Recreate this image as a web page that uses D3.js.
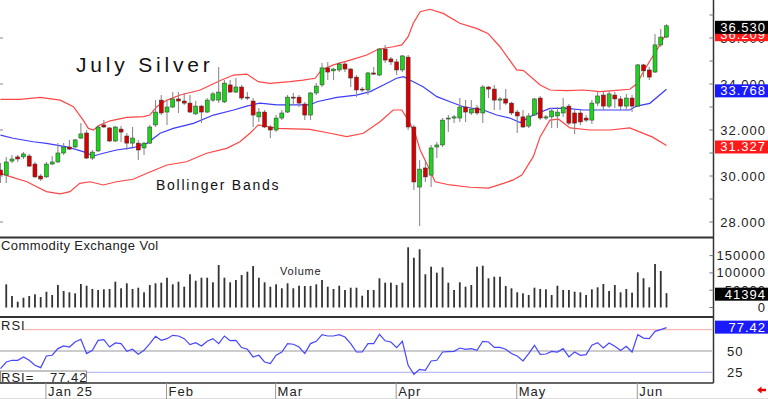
<!DOCTYPE html>
<html>
<head>
<meta charset="utf-8">
<style>
body { margin: 0; background: #fff; }
svg { display: block; font-family: "Liberation Sans", Arial, sans-serif; }
.lbl { font-size: 13px; letter-spacing: 1px; fill: #222; }
</style>
<script src="https://cdn.jsdelivr.net/npm/d3@7.9.0/dist/d3.min.js"></script>
</head>
<body>
<svg id="chart" width="768" height="399"></svg>
<script>
// daily July silver, Dec 19 2024 .. Jun 9 2025 (117 sessions)
const open = [
30.26,30.04,30.65,30.83,30.83,30.87,30.52,30.00,29.96,30.52,
30.61,31.00,31.26,31.26,31.65,31.87,30.78,31.09,32.22,32.09,
31.52,32.04,31.74,31.43,31.43,31.22,31.43,32.22,33.30,32.78,
33.00,33.35,33.26,33.17,32.70,33.04,32.78,33.30,33.30,33.22,
33.96,33.65,33.87,33.43,33.26,32.57,32.78,32.13,32.00,32.52,
32.78,33.43,33.43,33.13,32.65,33.61,33.96,34.70,34.57,34.61,
34.87,34.65,34.30,33.78,33.74,34.48,34.39,35.52,35.09,34.96,
34.61,35.17,32.13,29.52,30.35,30.04,31.26,31.35,32.48,32.52,
32.52,33.00,32.74,32.96,32.74,33.87,33.78,33.30,33.35,33.17,
32.78,32.57,32.17,32.65,33.39,32.52,32.57,32.61,32.74,33.04,
32.74,32.74,32.52,32.43,33.17,33.52,33.04,33.52,33.35,33.04,
33.39,33.04,34.83,34.61,34.52,35.70,36.04]
const high = [
30.57,30.83,30.91,30.91,31.04,30.96,30.61,30.09,30.61,30.87,
31.43,31.43,31.57,31.61,32.30,32.00,31.13,32.22,32.43,32.13,
32.17,32.17,31.87,32.13,31.57,31.48,32.22,33.30,33.52,33.30,
33.65,33.65,33.61,33.52,33.26,33.09,33.39,33.65,34.74,34.17,
34.17,34.26,33.96,33.65,33.39,32.96,32.87,32.22,32.65,32.87,
33.52,33.61,33.52,33.22,33.65,34.04,34.91,34.96,34.70,34.96,
34.96,34.70,34.39,33.87,34.52,34.74,35.57,35.70,35.17,35.09,
35.26,35.26,32.22,30.70,30.70,31.35,31.48,32.52,32.65,32.65,
33.39,33.30,33.30,33.09,33.96,33.91,33.96,33.43,33.78,33.22,
32.87,32.87,32.74,33.39,33.48,32.65,32.96,33.00,33.39,33.13,
32.87,32.87,32.65,33.30,33.65,33.65,33.70,33.65,33.48,33.57,
33.52,34.87,34.87,34.74,36.17,36.39,36.60]
const low = [
29.70,29.70,30.57,30.61,30.74,30.39,29.91,29.78,29.91,30.48,
30.57,30.91,31.13,31.22,31.61,30.74,30.70,31.04,32.09,31.48,
31.48,31.48,31.13,31.26,30.70,30.91,31.39,32.13,32.65,32.22,
32.96,32.74,33.09,32.74,32.65,32.30,32.74,33.22,33.17,33.17,
33.61,33.61,33.30,33.30,32.13,32.35,32.09,31.65,31.91,32.43,
32.74,33.09,33.00,32.43,32.43,33.52,33.87,34.17,34.17,34.52,
34.52,33.87,33.43,33.65,33.52,34.39,34.35,34.91,34.83,34.39,
34.52,32.00,29.39,27.83,29.74,29.52,30.78,31.26,31.91,32.30,
32.35,32.35,32.65,32.65,32.30,33.39,32.87,32.87,33.09,32.65,
31.87,32.09,32.09,32.61,32.43,32.43,32.09,32.09,32.57,32.22,
31.83,32.22,32.35,32.26,33.04,32.87,32.96,32.96,32.87,32.87,
32.78,33.00,34.30,34.17,34.48,35.61,36.00]
const close = [
30.04,30.61,30.74,30.74,30.96,30.43,29.96,29.87,30.52,30.61,
31.00,31.26,31.17,31.57,31.83,30.78,31.04,32.13,32.13,31.52,
32.13,31.91,31.43,31.65,31.13,31.43,32.13,32.78,32.74,33.00,
33.35,33.26,33.17,32.78,33.04,32.78,33.30,33.57,33.65,34.04,
33.65,33.87,33.39,33.39,32.65,32.78,32.13,32.00,32.52,32.74,
33.43,33.39,33.17,32.65,33.61,33.91,34.70,34.52,34.65,34.87,
34.65,34.26,33.74,33.74,34.48,34.43,35.52,35.04,34.96,34.61,
35.22,32.13,29.74,30.30,29.96,31.22,31.35,32.43,32.52,32.57,
33.00,32.78,32.91,32.74,33.87,33.78,33.30,33.35,33.17,32.74,
32.61,32.13,32.61,33.35,32.52,32.57,32.83,32.78,33.00,32.30,
32.30,32.35,32.43,33.17,33.48,33.04,33.57,33.35,33.04,33.39,
33.04,34.83,34.57,34.30,35.70,36.04,36.53]
const volume = [
60000,67000,33200,16800,28300,33200,38100,30300,45700,36100,
65000,47700,43900,41000,67900,63000,53500,50600,52600,53500,
74600,55500,69900,53500,57200,43900,65000,69900,71700,86100,
67000,74600,60100,96000,77500,86100,86100,72800,122800,86100,
72800,79500,93900,103500,119900,86100,72800,60100,67000,55500,
69900,55500,63000,62100,62100,67000,79500,60100,53500,63000,
50600,57200,57200,34100,50600,50600,84400,71700,71700,65000,
71700,174000,143900,168200,96000,117900,100600,116200,71700,50600,
72800,60100,65000,117900,120800,84400,89000,89000,62100,55500,
43900,41000,36100,57200,53500,52600,36100,63000,50600,50600,
45700,43900,36100,52600,58400,67900,47700,65000,43900,53500,
42800,101700,84400,58400,125700,105500,41394]
const rsi = [
29.4,37.1,39.1,39.1,43.0,39.1,33.2,30.5,44.1,45.0,
52.8,55.9,54.7,60.6,63.7,47.0,50.8,62.5,63.4,54.7,
59.4,58.7,49.6,52.0,46.1,50.8,58.7,67.2,62.5,64.5,
68.4,67.6,64.5,57.5,59.8,55.9,61.4,64.5,58.7,67.6,
62.2,62.5,54.0,52.0,43.0,45.0,37.1,35.2,45.0,48.8,
58.7,57.9,54.7,47.0,58.7,61.4,69.2,67.6,67.6,69.2,
66.4,58.7,48.8,48.8,58.7,58.7,69.6,62.0,60.6,54.0,
61.4,33.2,22.7,28.5,27.4,38.3,39.1,48.8,49.3,49.6,
53.5,52.0,52.8,50.8,61.4,60.6,54.3,54.3,52.0,47.0,
44.1,38.3,47.0,56.7,46.1,46.5,49.6,48.8,52.8,43.0,
48.8,45.0,45.8,56.7,59.8,53.5,59.4,55.5,50.5,55.5,
48.8,69.2,65.2,64.5,73.1,75.1,77.42]

// bollinger bands as [session index, price]
const upperBand = [[0,33.33],[3.4,33.33],[6.9,33.42],[10.4,33.30],[12.7,33.01],[14.4,32.43],[15.3,32.07],[16.2,32.00],[17.3,32.22],[19.1,32.40],[22,32.55],[24.9,32.58],[26,32.65],[27.2,33.01],[29,33.30],[31.3,33.52],[34.8,33.74],[38.2,34.14],[40.6,34.39],[42.9,34.43],[44.9,34.10],[46.9,34.03],[50.4,34.10],[52.7,34.17],[54.8,34.25],[55.9,34.61],[58,34.83],[60.9,35.04],[63.8,35.26],[65.8,35.51],[68.4,35.62],[69.9,35.70],[71,36.06],[71.9,36.64],[73.1,37.14],[74.8,37.25],[77.1,37.07],[80,36.64],[82.9,36.42],[84.9,36.20],[87,35.62],[89.9,34.61],[91.1,34.58],[94,33.96],[95.7,33.74],[98.6,33.71],[101.5,33.74],[104.4,33.67],[106.7,33.71],[109.6,33.77],[110.8,34.0],[111.9,34.5],[113.1,35.0],[114.6,35.6],[116,36.21]]
const middleBand = [[0,31.78],[2.2,31.64],[5.7,31.49],[8,31.42],[11.5,31.27],[14.4,31.06],[16.2,30.87],[17.9,30.99],[20.2,31.13],[23.1,31.23],[25.5,31.42],[27.8,31.86],[30.1,32.07],[33.6,32.29],[37.1,32.65],[40.6,32.87],[42.9,33.04],[45.2,33.17],[48.1,33.09],[53.9,33.09],[55.1,33.23],[58.6,33.42],[62,33.52],[64.4,33.67],[66.7,33.96],[69,34.25],[70.2,34.32],[71.3,34.17],[73.6,33.88],[76,33.45],[78.3,33.23],[80.6,33.01],[84.1,32.87],[86.4,32.65],[88.8,32.51],[90.5,32.32],[92.8,32.65],[95.7,32.94],[98.6,32.94],[101.5,32.87],[104.4,32.87],[109.6,32.87],[110.8,33.04],[113.1,33.16],[116,33.77]]
const lowerBand = [[0,30.12],[1.7,29.97],[4.6,29.75],[6.3,29.53],[8,29.32],[10.4,29.22],[12.1,29.32],[13.8,29.68],[15.6,29.75],[17.9,29.61],[20.2,29.75],[23.1,29.86],[25.5,30.12],[29,30.48],[32.4,30.62],[35.9,30.99],[39.4,31.20],[41.7,31.49],[43.5,31.87],[44.9,32.22],[46.1,32.17],[48.2,32.07],[53.9,32.03],[57.4,31.86],[60.3,31.71],[63.2,31.86],[66.1,32.36],[68.4,32.87],[69.9,32.87],[71,32.43],[72.2,31.86],[73.1,31.13],[74.5,30.40],[75.7,29.75],[78.3,29.61],[81.8,29.51],[85,29.47],[87.6,29.68],[89.3,29.83],[90.8,30.04],[92.8,30.84],[94,31.71],[95.7,32.43],[97.2,32.47],[99.2,32.09],[102.7,32.0],[106.2,32.0],[109.6,32.09],[111.4,31.91],[113.5,31.70],[116,31.33]]

const priceTicks = [28, 30, 32, 34, 36]
const volTicks = [0, 50000, 100000, 150000]
const rsiTicks = [25, 50]
const monthLabels = ['Jan 25', 'Feb', 'Mar', 'Apr', 'May', 'Jun']
const monthIndex = [8, 29, 48, 69, 90, 111]

const svg = d3.select('#chart')
const axisX = 713.5

let x = d3.scaleLinear().domain([0, 116]).range([0.5, 666.5])
let y = d3.scaleLinear().domain([28, 36]).range([222, 38])
let yVol = d3.scaleLinear().domain([0, 100000]).range([307.5, 272.9])
let yRsi = d3.scaleLinear().domain([25, 75]).range([372.3, 329.7])

let defs = svg.append('defs')
defs.append('clipPath').attr('id', 'clipMain').append('rect')
    .attr('x', 0).attr('y', 0).attr('width', 712).attr('height', 236)
defs.append('clipPath').attr('id', 'clipVol').append('rect')
    .attr('x', 2).attr('y', 239).attr('width', 710).attr('height', 77)
defs.append('clipPath').attr('id', 'clipRsi').append('rect')
    .attr('x', 0).attr('y', 318).attr('width', 712).attr('height', 64)

// ---- price panel
let main = svg.append('g').attr('clip-path', 'url(#clipMain)')
let band = d3.line().x(d => x(d[0])).y(d => y(d[1]))
main.append('path').attr('d', band(upperBand)).attr('fill', 'none').attr('stroke', '#ff4545').attr('stroke-width', 1.2)
main.append('path').attr('d', band(lowerBand)).attr('fill', 'none').attr('stroke', '#ff4545').attr('stroke-width', 1.2)
main.append('path').attr('d', band(middleBand)).attr('fill', 'none').attr('stroke', '#3c3cff').attr('stroke-width', 1.2)

let idx = d3.range(open.length)
main.selectAll('line.wick').data(idx).join('line')
    .attr('class', 'wick')
    .attr('x1', i => x(i)).attr('x2', i => x(i))
    .attr('y1', i => y(high[i])).attr('y2', i => y(low[i]))
    .attr('stroke', '#8c8c8c').attr('stroke-width', 1.1)
main.selectAll('rect.body').data(idx).join('rect')
    .attr('class', 'body')
    .attr('x', i => x(i) - 2)
    .attr('width', 4)
    .attr('y', i => y(Math.max(open[i], close[i])))
    .attr('height', i => Math.max(1, Math.abs(y(open[i]) - y(close[i]))))
    .attr('fill', i => close[i] >= open[i] ? '#1fd21f' : '#d60000')
    .attr('stroke', '#333').attr('stroke-width', 0.5)

svg.append('text').attr('x', 76).attr('y', 72)
    .style('font-size', '21px').style('letter-spacing', '3.8px').attr('fill', '#111')
    .text('July Silver')
svg.append('text').attr('x', 156).attr('y', 190)
    .style('font-size', '14px').style('letter-spacing', '1.75px').attr('fill', '#111')
    .text('Bollinger Bands')

// ---- volume panel
let vol = svg.append('g').attr('clip-path', 'url(#clipVol)')
vol.selectAll('rect').data(idx).join('rect')
    .attr('x', i => x(i) - 0.9).attr('width', 1.8)
    .attr('y', i => yVol(volume[i]))
    .attr('height', i => yVol(0) - yVol(volume[i]))
    .attr('fill', '#333')
svg.append('text').attr('class', 'lbl').attr('x', 1).attr('y', 250)
    .style('letter-spacing', '0.4px')
    .text('Commodity Exchange Vol')
svg.append('text').attr('x', 280).attr('y', 275)
    .style('font-size', '11px').style('letter-spacing', '0.8px').attr('fill', '#222')
    .text('Volume')

// ---- RSI panel
let rp = svg.append('g').attr('clip-path', 'url(#clipRsi)')
rp.append('line').attr('x1', 23).attr('x2', axisX).attr('y1', yRsi(75)).attr('y2', yRsi(75))
    .attr('stroke', '#f9a4a4').attr('stroke-width', 1)
rp.append('line').attr('x1', 0).attr('x2', axisX).attr('y1', yRsi(50)).attr('y2', yRsi(50))
    .attr('stroke', '#cccccc').attr('stroke-width', 2)
rp.append('line').attr('x1', 0).attr('x2', axisX).attr('y1', yRsi(25)).attr('y2', yRsi(25))
    .attr('stroke', '#aaaaff').attr('stroke-width', 1)
rp.append('path')
    .attr('d', d3.line().x((d, i) => x(i)).y(d => yRsi(d))(rsi))
    .attr('fill', 'none').attr('stroke', '#4646ff').attr('stroke-width', 1.2)
svg.append('text').attr('class', 'lbl').attr('x', 1).attr('y', 330).text('RSI')
svg.append('rect').attr('x', 0.5).attr('y', 371).attr('width', 86).attr('height', 12)
    .attr('fill', '#fff').attr('stroke', '#888')
svg.append('text').attr('class', 'lbl').attr('x', 1).attr('y', 381.5).text('RSI=')
svg.append('text').attr('class', 'lbl').attr('x', 50).attr('y', 381.5).text(rsi[rsi.length - 1].toFixed(2))

// ---- frame
let frame = svg.append('g').attr('stroke', '#333')
frame.append('line').attr('x1', 0).attr('x2', axisX).attr('y1', 237.5).attr('y2', 237.5).attr('stroke-width', 2)
frame.append('line').attr('x1', 0).attr('x2', axisX).attr('y1', 317).attr('y2', 317).attr('stroke-width', 2)
frame.append('line').attr('x1', 0).attr('x2', axisX).attr('y1', 383).attr('y2', 383).attr('stroke-width', 1.5)
frame.append('line').attr('x1', axisX).attr('x2', axisX).attr('y1', 0).attr('y2', 383).attr('stroke-width', 1.5)
svg.append('line').attr('x1', 0).attr('x2', 768).attr('y1', 398.5).attr('y2', 398.5).attr('stroke', '#ddd')

// small ticks
svg.selectAll('line.rt').data(d3.range(28, 38)).join('line')
    .attr('class', 'rt')
    .attr('x1', axisX - 4).attr('x2', axisX).attr('y1', d => y(d)).attr('y2', d => y(d))
    .attr('stroke', '#777')
svg.selectAll('line.lt').data(priceTicks).join('line')
    .attr('class', 'lt')
    .attr('x1', 0).attr('x2', 3).attr('y1', d => y(d)).attr('y2', d => y(d))
    .attr('stroke', '#888')
svg.selectAll('line.vt').data(volTicks).join('line')
    .attr('class', 'vt')
    .attr('x1', axisX - 4).attr('x2', axisX).attr('y1', d => yVol(d)).attr('y2', d => yVol(d))
    .attr('stroke', '#777')

// month ticks
svg.selectAll('line.mt').data(monthIndex).join('line')
    .attr('class', 'mt')
    .attr('x1', d => x(d) - 0.5).attr('x2', d => x(d) - 0.5).attr('y1', 383).attr('y2', 399)
    .attr('stroke', '#999')
svg.selectAll('text.month').data(monthLabels).join('text')
    .attr('class', 'lbl month')
    .attr('x', (d, i) => x(monthIndex[i]) + 1.5).attr('y', 395.5)
    .text(d => d)

// ---- right axis labels
svg.selectAll('text.pt').data(priceTicks).join('text')
    .attr('class', 'lbl pt').attr('text-anchor', 'end')
    .attr('x', 766).attr('y', d => y(d) + 4.5)
    .text(d => d.toFixed(3))
svg.selectAll('text.vl').data(volTicks).join('text')
    .attr('class', 'lbl vl').attr('text-anchor', 'end')
    .attr('x', 766).attr('y', d => yVol(d) + 4.5)
    .text(d => d)
svg.selectAll('text.rl').data(rsiTicks).join('text')
    .attr('class', 'lbl rl')
    .attr('x', 727).attr('y', d => yRsi(d) + 4.5)
    .text(d => d)

function tag(yc, txt, bg) {
    svg.append('rect').attr('x', 715).attr('y', yc - 6.5).attr('width', 53).attr('height', 13).attr('fill', bg)
    svg.append('text').attr('class', 'lbl').attr('text-anchor', 'end')
        .attr('x', 766).attr('y', yc + 4.5).style('fill', '#fff').text(txt)
}
tag(y(36.209) + 1.5, '36.209', '#ff1a1a')
tag(y(close[close.length - 1]) + 1.5, close[close.length - 1].toFixed(3), '#000')
tag(y(33.768) + 1.5, '33.768', '#1a1aff')
tag(y(31.327) + 1.5, '31.327', '#ff1a1a')
tag(yVol(volume[volume.length - 1]) + 1, String(volume[volume.length - 1]), '#000')
tag(yRsi(rsi[rsi.length - 1]) - 0.5, rsi[rsi.length - 1].toFixed(2), '#1a1aff')

// little red arrow bottom right
svg.append('path')
    .attr('d', 'M757,390 L761.5,386.5 L761.5,388.8 L766,388.8 L766,391.2 L761.5,391.2 L761.5,393.5 Z')
    .attr('fill', '#e00')
</script>
</body>
</html>
